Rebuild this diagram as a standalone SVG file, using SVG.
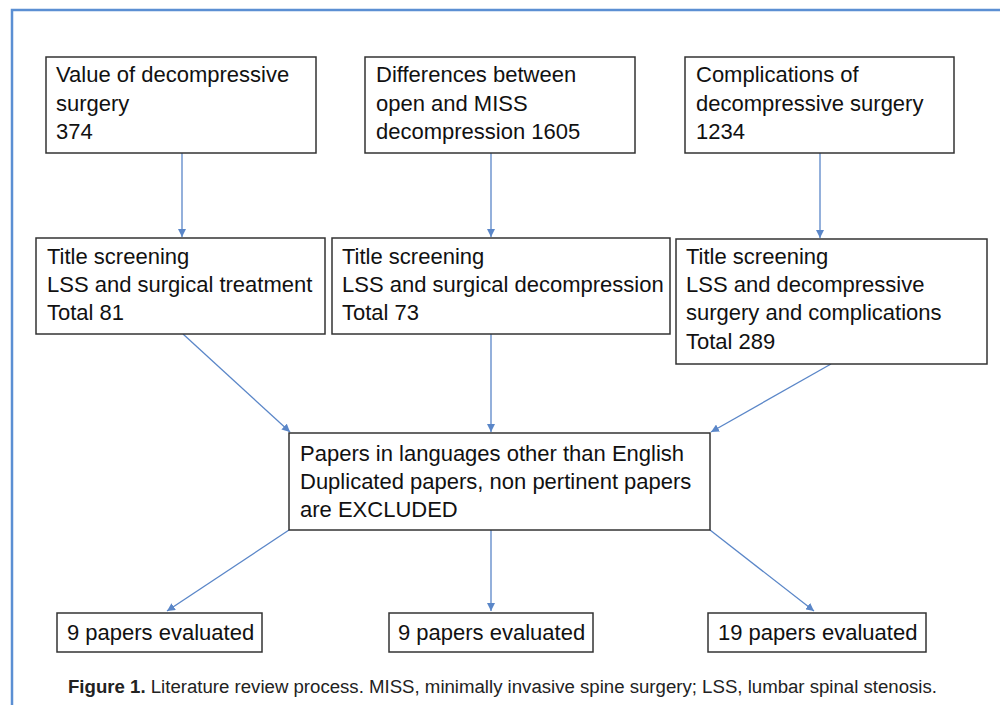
<svg xmlns="http://www.w3.org/2000/svg" width="1000" height="705" viewBox="0 0 1000 705">
<style>
.box{fill:#fff;stroke:#333;stroke-width:1.5}
.t{font-family:"Liberation Sans",Arial,sans-serif;font-size:22px;fill:#111}
.c{stroke:#5a86c8;stroke-width:1.3;fill:none;marker-end:url(#ah)}
.cap{font-family:"Liberation Sans",Arial,sans-serif;font-size:18px;fill:#222}
</style>
<defs>
<marker id="ah" viewBox="0 0 10 10" refX="10" refY="5" markerWidth="8" markerHeight="8" markerUnits="userSpaceOnUse" orient="auto">
<path d="M0,0 L10,5 L0,10 z" fill="#5a86c8"/>
</marker>
</defs>
<rect width="1000" height="705" fill="#fff"/>
<path d="M12,705 L12,10 L1000,10" fill="none" stroke="#5b8fd3" stroke-width="2.5"/>
<g id="connectors">
<line class="c" x1="182" y1="153" x2="182" y2="237"/>
<line class="c" x1="491" y1="153" x2="491" y2="237"/>
<line class="c" x1="820" y1="153" x2="820" y2="238"/>
<line class="c" x1="183" y1="334" x2="290" y2="432"/>
<line class="c" x1="491" y1="334" x2="491" y2="432"/>
<line class="c" x1="831" y1="364" x2="711" y2="432"/>
<line class="c" x1="289" y1="530" x2="167" y2="611"/>
<line class="c" x1="491" y1="530" x2="491" y2="611"/>
<line class="c" x1="710" y1="530" x2="814" y2="611"/>
</g>
<g id="n1"><rect class="box" x="46" y="57" width="270" height="96"/>
<text class="t" x="56" y="82">Value of decompressive</text><text class="t" x="56" y="111">surgery</text><text class="t" x="56" y="139">374</text></g>
<g id="n2"><rect class="box" x="365" y="57" width="270" height="96"/>
<text class="t" x="376" y="82">Differences between</text><text class="t" x="376" y="111">open and MISS</text><text class="t" x="376" y="139">decompression 1605</text></g>
<g id="n3"><rect class="box" x="685" y="57" width="269" height="96"/>
<text class="t" x="696" y="82">Complications of</text><text class="t" x="696" y="111">decompressive surgery</text><text class="t" x="696" y="139">1234</text></g>
<g id="n4"><rect class="box" x="36" y="238" width="289" height="96"/>
<text class="t" x="47" y="264">Title screening</text><text class="t" x="47" y="292">LSS and surgical treatment</text><text class="t" x="47" y="320">Total 81</text></g>
<g id="n5"><rect class="box" x="332" y="238" width="338" height="96"/>
<text class="t" x="342" y="264">Title screening</text><text class="t" x="342" y="292">LSS and surgical decompression</text><text class="t" x="342" y="320">Total 73</text></g>
<g id="n6"><rect class="box" x="676" y="239" width="311" height="125"/>
<text class="t" x="686" y="264">Title screening</text><text class="t" x="686" y="292">LSS and decompressive</text><text class="t" x="686" y="320">surgery and complications</text><text class="t" x="686" y="349">Total 289</text></g>
<g id="n7"><rect class="box" x="289" y="433" width="421" height="97"/>
<text class="t" x="300" y="461">Papers in languages other than English</text><text class="t" x="300" y="489">Duplicated papers, non pertinent papers</text><text class="t" x="300" y="517">are EXCLUDED</text></g>
<g id="n8"><rect class="box" x="57" y="613" width="205" height="39"/>
<text class="t" x="67" y="640">9 papers evaluated</text></g>
<g id="n9"><rect class="box" x="389" y="613" width="204" height="39"/>
<text class="t" x="398" y="640">9 papers evaluated</text></g>
<g id="n10"><rect class="box" x="708" y="613" width="218" height="39"/>
<text class="t" x="718" y="640">19 papers evaluated</text></g>
<text class="cap" x="68" y="693" textLength="869" lengthAdjust="spacingAndGlyphs"><tspan font-weight="bold">Figure 1.</tspan>  Literature review process. MISS, minimally invasive spine surgery; LSS, lumbar spinal stenosis.</text>
</svg>
